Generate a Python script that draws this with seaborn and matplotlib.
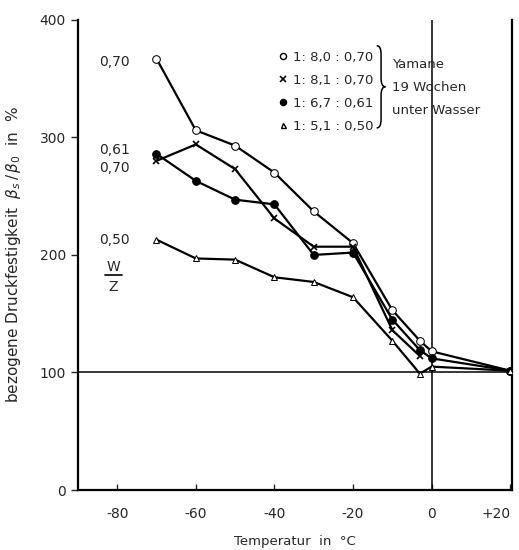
import matplotlib
matplotlib.use("Agg")
import matplotlib.pyplot as plt
import seaborn as sns
import pandas as pd
from matplotlib.lines import Line2D
from matplotlib.path import Path
from matplotlib.patches import PathPatch

sns.set_style("white")
plt.rcParams['font.family'] = ['DejaVu Sans']

# --- data ---
temp_a = [-70, -60, -50, -40, -30, -20, -10, -3, 0, 20]
val_a = [367, 306, 293, 270, 237, 210, 153, 127, 118, 101.5]   # 1:8,0:0,70  open circle

temp_b = [-70, -60, -50, -40, -30, -20, -10, -3]
val_b = [280, 294, 273, 231, 207, 207, 136, 114]               # 1:8,1:0,70  cross

temp_c = [-70, -60, -50, -40, -30, -20, -10, -3, 0, 20]
val_c = [286, 263, 247, 243, 200, 202, 145, 119, 112, 101.5]   # 1:6,7:0,61  filled circle

temp_d = [-70, -60, -50, -40, -30, -20, -10, -3, 0, 20]
val_d = [213, 197, 196, 181, 177, 164, 127, 99, 105, 101.5]    # 1:5,1:0,50  triangle

labels = ["1: 8,0 : 0,70", "1: 8,1 : 0,70", "1: 6,7 : 0,61", "1: 5,1 : 0,50"]
xticks = [-80, -60, -40, -20, 0, 20]
xticklabels = ["-80", "-60", "-40", "-20", "0", "+20"]
yticks = [0, 100, 200, 300, 400]

fig = plt.figure(figsize=(5.19, 5.50), dpi=100)
ax = fig.add_axes([0.150, 0.109, 0.837, 0.855])

styles = [
    dict(marker='o', mfc='white', mec='black', ms=5.5),
    dict(marker='x', mfc='black', mec='black', ms=5, mew=1.2),
    dict(marker='o', mfc='black', mec='black', ms=5.5),
    dict(marker='^', mfc='white', mec='black', ms=4.5),
]
series = [(temp_a, val_a), (temp_b, val_b), (temp_c, val_c), (temp_d, val_d)]
for (t, v), st, lab in zip(series, styles, labels):
    df = pd.DataFrame({"T": t, "v": v})
    sns.lineplot(data=df, x="T", y="v", ax=ax, color='black', lw=1.6,
                 sort=False, zorder=3, **st)

ax.axvline(0, color='black', lw=1.1, zorder=1)
ax.axhline(100, color='black', lw=1.1, zorder=1)

ax.set_xlim(-90, 20.5)
ax.set_ylim(0, 400)
ax.set_xticks(xticks)
ax.set_xticklabels(xticklabels)
ax.get_xticklabels()[-1].set_horizontalalignment('right')
ax.set_yticks(yticks)
ax.tick_params(axis='x', direction='in', length=4, width=1, labelsize=10, pad=12)
ax.tick_params(axis='y', direction='out', length=5, width=1, labelsize=10, left=True)
ax.tick_params(axis='x', bottom=True)
for s in ['left', 'bottom', 'right']:
    ax.spines[s].set_visible(True)
    ax.spines[s].set_color('black')
    ax.spines[s].set_linewidth(1.6)
ax.spines['top'].set_visible(False)

ax.set_xlabel("Temperatur  in  °C", fontsize=9.5, labelpad=10)
ax.set_ylabel(r"bezogene Druckfestigkeit  $\beta_{s}\,/\,\beta_{0}$  in  %", fontsize=11, labelpad=12)

handles = [Line2D([], [], linestyle='none', color='black', **st) for st in styles]
for h in handles:
    h.set_markersize(h.get_markersize() * 0.8)
leg = ax.legend(handles, labels, loc='upper left', bbox_to_anchor=(0.45, 0.945),
                frameon=False, fontsize=9.5, handlelength=0.7, handletextpad=0.4,
                labelspacing=0.75, borderaxespad=0)

# curly brace drawn as a path (axes fraction coordinates)
x0, d = 0.688, 0.010
ytop, ybot = 0.945, 0.770
ymid = (ytop + ybot) / 2
e = 0.018
verts = [(x0, ytop), (x0 + d, ytop), (x0 + d, ytop - e),
         (x0 + d, ymid + e),
         (x0 + d, ymid), (x0 + 2 * d, ymid),
         (x0 + d, ymid), (x0 + d, ymid - e),
         (x0 + d, ybot + e),
         (x0 + d, ybot), (x0, ybot)]
codes = [Path.MOVETO, Path.CURVE3, Path.CURVE3,
         Path.LINETO,
         Path.CURVE3, Path.CURVE3,
         Path.CURVE3, Path.CURVE3,
         Path.LINETO,
         Path.CURVE3, Path.CURVE3]
ax.add_patch(PathPatch(Path(verts, codes), transform=ax.transAxes,
                       facecolor='none', edgecolor='black', lw=1.1))

ax.text(-10, 362, "Yamane", fontsize=9.5, va='center')
ax.text(-10, 342, "19 Wochen", fontsize=9.5, va='center')
ax.text(-10, 323, "unter Wasser", fontsize=9.5, va='center')

ax.text(-84.5, 364, "0,70", fontsize=10, va='center')
ax.text(-84.5, 289, "0,61", fontsize=10, va='center')
ax.text(-84.5, 274, "0,70", fontsize=10, va='center')
ax.text(-84.5, 213, "0,50", fontsize=10, va='center')
ax.text(-81, 190, "W", fontsize=10, ha='center', va='center')
ax.plot([-83.2, -78.8], [183, 183], color='black', lw=1.2)
ax.text(-81, 173, "Z", fontsize=10, ha='center', va='center')

fig.savefig("out.png", dpi=100)
